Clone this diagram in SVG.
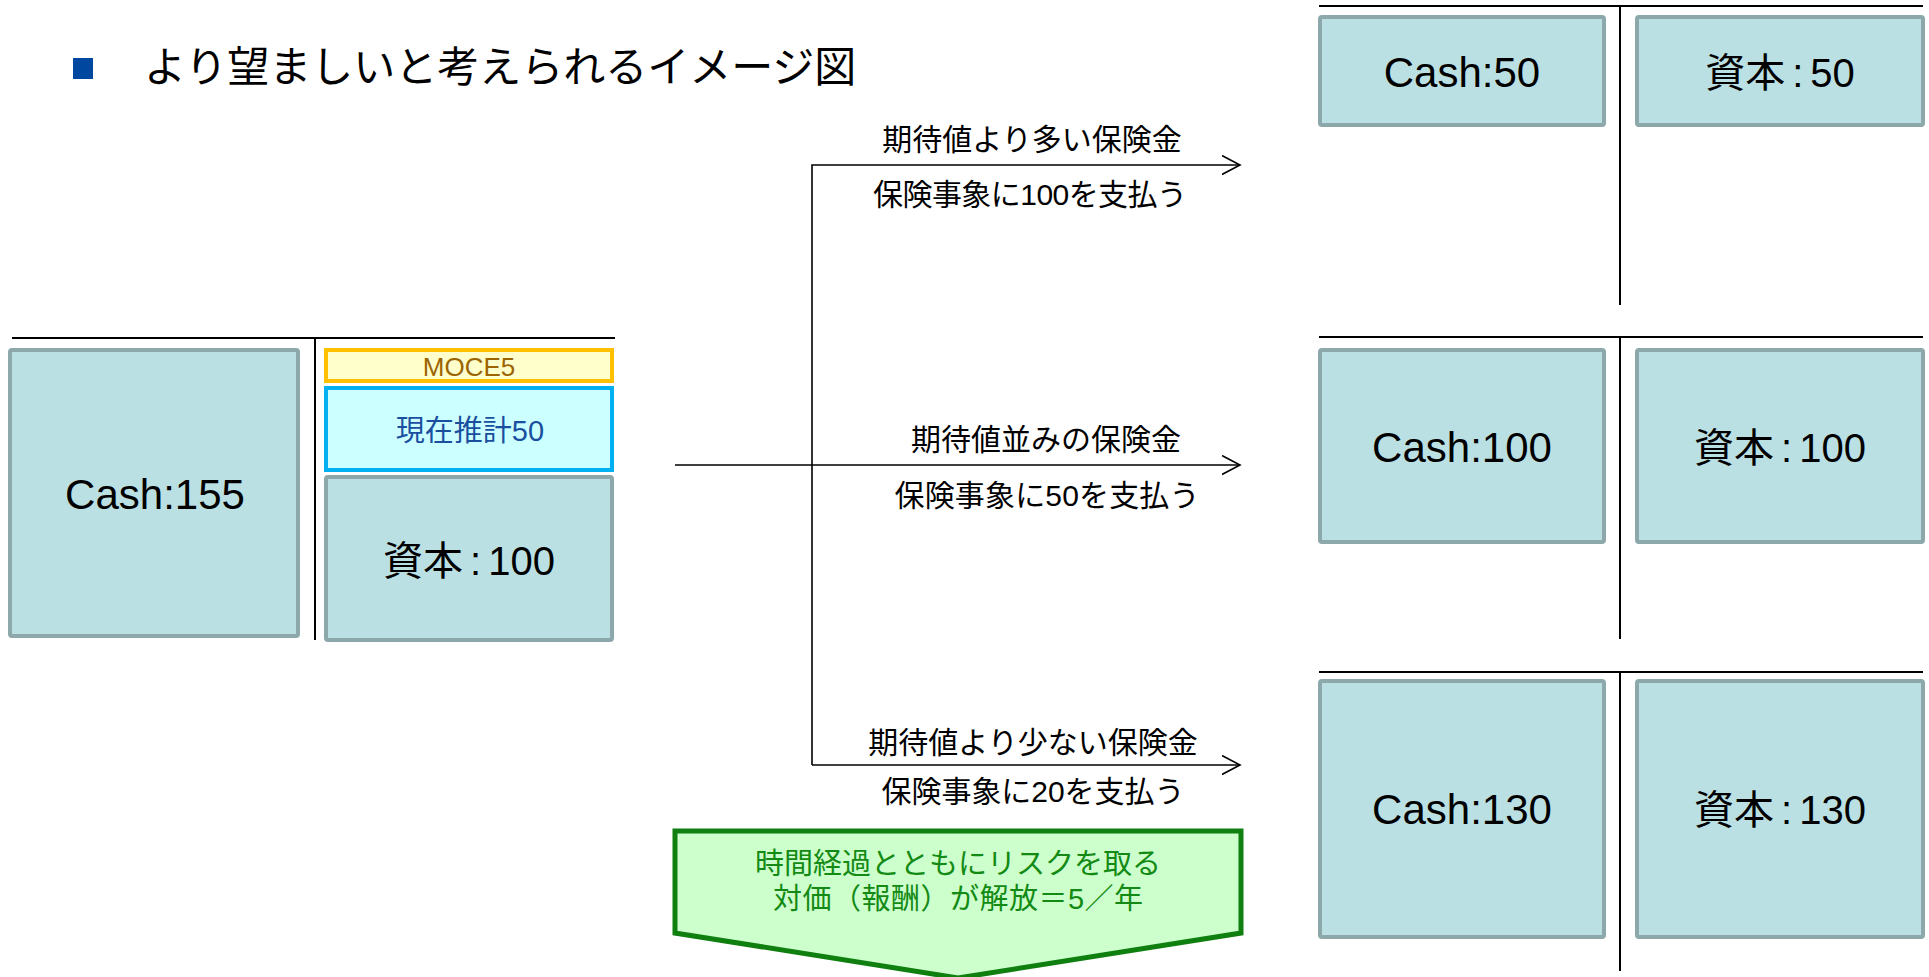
<svg xmlns="http://www.w3.org/2000/svg" width="1929" height="977" viewBox="0 0 1929 977">
  <defs>
    <style>
      .t { font-family: "Liberation Sans", "Noto Sans CJK JP", sans-serif; text-anchor: middle; }
      .box { fill: #BBE0E3; stroke: #8CA8AB; stroke-width: 4; }
      .rule { stroke: #000; stroke-width: 2; fill: none; }
      .conn { stroke: #000; stroke-width: 1.6; fill: none; }
      .big { font-size: 42px; fill: #000; }
      .cap { font-size: 40px; fill: #000; }
      .lbl { font-size: 30px; fill: #000; }
      .grn { font-size: 29px; fill: #138A13; }
    </style>
    <marker id="arr" markerWidth="20" markerHeight="22" refX="18" refY="10" orient="auto" markerUnits="userSpaceOnUse">
      <path d="M0,0.5 L18,10 L0,19.5" fill="none" stroke="#000" stroke-width="1.6"/>
    </marker>
  </defs>
  <rect width="1929" height="977" fill="#fff"/>

  <g id="title">
    <rect x="73" y="58" width="20" height="21" fill="#0047A0"/>
    <text x="144" y="82" font-family="Noto Sans CJK JP, sans-serif" font-size="42" fill="#000">より望ましいと考えられるイメージ図</text>
  </g>

  <g id="t-accounts">
    <path class="rule" d="M12,338 H615 M315,338 V640"/>
    <path class="rule" d="M1319,6 H1923 M1620,6 V305"/>
    <path class="rule" d="M1319,337 H1923 M1620,337 V639"/>
    <path class="rule" d="M1319,672 H1923 M1620,672 V971"/>
  </g>

  <g id="cash155">
    <rect class="box" x="10" y="350" width="288" height="286" rx="2"/>
    <text class="t big" x="155" y="509">Cash:155</text>
  </g>
  <g id="moce5">
    <rect x="326" y="350" width="286" height="31" fill="#FFFFCC" stroke="#FFC000" stroke-width="4"/>
    <text class="t" x="469" y="376" font-size="26" fill="#9C6500">MOCE5</text>
  </g>
  <g id="estimate50">
    <rect x="326" y="388" width="286" height="82" fill="#CCFFFF" stroke="#00B0F0" stroke-width="4"/>
    <text class="t" x="470" y="441" font-size="29" fill="#1A4FA0">現在推計50</text>
  </g>
  <g id="capital100-left">
    <rect class="box" x="326" y="477" width="286" height="163" rx="2"/>
    <text class="t cap" x="469" y="575">資本<tspan dx="7">:</tspan><tspan dx="7">100</tspan></text>
  </g>

  <g id="cash50">
    <rect class="box" x="1320" y="17" width="284" height="108" rx="2"/>
    <text class="t big" x="1462" y="87">Cash:50</text>
  </g>
  <g id="capital50">
    <rect class="box" x="1637" y="17" width="286" height="108" rx="2"/>
    <text class="t cap" x="1780" y="87">資本<tspan dx="7">:</tspan><tspan dx="7">50</tspan></text>
  </g>
  <g id="cash100">
    <rect class="box" x="1320" y="350" width="284" height="192" rx="2"/>
    <text class="t big" x="1462" y="462">Cash:100</text>
  </g>
  <g id="capital100-right">
    <rect class="box" x="1637" y="350" width="286" height="192" rx="2"/>
    <text class="t cap" x="1780" y="462">資本<tspan dx="7">:</tspan><tspan dx="7">100</tspan></text>
  </g>
  <g id="cash130">
    <rect class="box" x="1320" y="681" width="284" height="256" rx="2"/>
    <text class="t big" x="1462" y="824">Cash:130</text>
  </g>
  <g id="capital130">
    <rect class="box" x="1637" y="681" width="286" height="256" rx="2"/>
    <text class="t cap" x="1780" y="824">資本<tspan dx="7">:</tspan><tspan dx="7">130</tspan></text>
  </g>

  <g id="connectors">
    <path class="conn" d="M812,765 V165 H1240" marker-end="url(#arr)"/>
    <path class="conn" d="M675,465 H1240" marker-end="url(#arr)"/>
    <path class="conn" d="M812,765 H1240" marker-end="url(#arr)"/>
    <text class="t lbl" x="1032" y="150">期待値より多い保険金</text>
    <text class="t lbl" x="1030" y="205" textLength="314" lengthAdjust="spacing">保険事象に100を支払う</text>
    <text class="t lbl" x="1046" y="450">期待値並みの保険金</text>
    <text class="t lbl" x="1047" y="506" textLength="305" lengthAdjust="spacing">保険事象に50を支払う</text>
    <text class="t lbl" x="1033" y="753">期待値より少ない保険金</text>
    <text class="t lbl" x="1033" y="802" textLength="303" lengthAdjust="spacing">保険事象に20を支払う</text>
  </g>

  <g id="release-arrow">
    <path d="M675,831 H1241 V933 L958,978 L675,933 Z" fill="#CCFFCC" stroke="#0F7F0F" stroke-width="5" stroke-linejoin="miter"/>
    <text class="t grn" x="958" y="874">時間経過とともにリスクを取る</text>
    <text class="t grn" x="958" y="909" textLength="370" lengthAdjust="spacing">対価（報酬）が解放＝5／年</text>
  </g>
</svg>
